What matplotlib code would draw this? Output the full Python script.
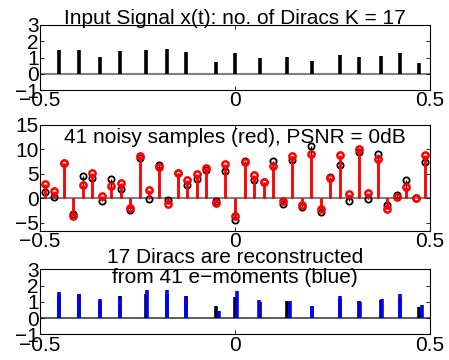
import numpy as np
import matplotlib
matplotlib.use('Agg')
import matplotlib.pyplot as plt

plt.rcParams['font.family'] = ['Liberation Sans', 'DejaVu Sans']
plt.rcParams['axes.unicode_minus'] = True

# --- datos ---
tk = [-0.4505, -0.400, -0.347, -0.2956, -0.229, -0.175, -0.126, -0.0495, 0.001,
      0.064, 0.134, 0.197, 0.269, 0.319, 0.374, 0.423, 0.472]
ak = [1.44, 1.48, 1.03, 1.37, 1.48, 1.50, 1.33, 0.72, 1.29,
      0.96, 1.05, 0.76, 1.17, 1.03, 1.09, 1.29, 0.68]

tk_rec = [-0.4505, -0.400, -0.346, -0.2956, -0.2256, -0.175, -0.126, -0.041, 0.004,
          0.0624, 0.141, 0.197, 0.270, 0.320, 0.376, 0.423, 0.479]
ak_rec = [1.58, 1.42, 1.20, 1.31, 1.73, 1.73, 1.31, 0.44, 1.67,
          1.10, 1.06, 0.73, 1.35, 1.00, 1.19, 1.48, 0.79]

n_samples = np.arange(41)
clean = [1.3, 0.27, 7.2, -3.15, 4.6, 4.2, -0.6, 4.0, 2.0, -2.5,
         8.2, -0.1, 6.85, -0.35, 5.1, 2.8, 3.9, 5.75, -0.5, 5.5,
         -4.4, 7.67, 3.77, 3.3, 7.6, -1.16, 7.9, -1.7, 10.6, -2.9,
         4.45, 6.8, -0.55, 9.45, -0.2, 8.97, -1.37, 0.75, 3.84, 0.0, 7.47]
noisy = [3.0, 1.44, 7.3, -3.7, 2.8, 5.2, 0.4, 2.5, 3.1, -1.9,
         8.56, 1.6, 6.5, -1.15, 5.1, 3.8, 4.9, 6.2, -1.0, 7.0,
         -3.6, 7.47, 4.8, 3.3, 6.6, -0.6, 8.56, -1.3, 8.97, -2.2,
         4.2, 8.77, 0.9, 10.1, 1.16, 8.0, -2.1, 0.34, 2.26, 0.05, 8.77]

t_samples = (n_samples - 20) / 41.0

fig = plt.figure(figsize=(4.49, 3.6), dpi=100)
left, width = 40 / 449, 390 / 449
ax1 = fig.add_axes([left, 1 - 90 / 360, width, 65 / 360])
ax2 = fig.add_axes([left, 1 - 231 / 360, width, 106 / 360])
ax3 = fig.add_axes([left, 1 - 334.3 / 360, width, 65 / 360])


def estilo(ax, yticks, ylim):
    ax.set_xlim(-0.5, 0.5)
    ax.set_ylim(*ylim)
    ax.set_xticks([-0.5, 0, 0.5])
    ax.set_xticklabels(['\u22120.5', '0', '0.5'])
    ax.set_yticks(yticks)
    ax.set_yticklabels([str(v).replace('-', '\u2212') for v in yticks])
    ax.tick_params(direction='in', top=True, right=True, length=3, width=0.6,
                   labelsize=15, pad=1)
    for s in ax.spines.values():
        s.set_linewidth(0.8)


# --- 1. Senal de entrada ---
ax1.axhline(0, color='gray', lw=1.5, zorder=1)
ax1.vlines(tk, 0, ak, color='black', lw=2.6, zorder=2)
estilo(ax1, [-1, 0, 1, 2, 3], (-1, 3))
ax1.set_title('Input Signal x(t): no. of Diracs K = 17', fontsize=15, pad=1)

# --- 2. Muestras ruidosas ---
ax2.axhline(0, color='gray', lw=1.5, zorder=1)
ax2.vlines(t_samples, 0, clean, color='black', lw=1.0, zorder=2)
ax2.plot(t_samples, clean, 'o', mfc='none', mec='black', ms=4.5, mew=1.3, zorder=3)
ax2.vlines(t_samples, 0, noisy, color='red', lw=2.0, zorder=4)
ax2.plot(t_samples, noisy, 'o', mfc='none', mec='red', ms=4.5, mew=1.8, zorder=5)
estilo(ax2, [-5, 0, 5, 10, 15], (-6.7, 15))
ax2.text(0.5, 0.975, '41 noisy samples (red), PSNR = 0dB', transform=ax2.transAxes,
         ha='center', va='top', fontsize=15)

# --- 3. Reconstruccion ---
ax3.axhline(0, color='#404040', lw=1.2, zorder=1)
ax3.vlines(tk, 0, ak, color='black', lw=2.6, zorder=2)
ax3.vlines(tk_rec, 0, ak_rec, color='blue', lw=2.6, zorder=3)
estilo(ax3, [-1, 0, 1, 2, 3], (-1, 3))
ax3.text(0.5, 1.03, '17 Diracs are reconstructed\nfrom 41 e\u2212moments (blue)',
         transform=ax3.transAxes, ha='center', va='center', fontsize=15,
         linespacing=1.1)

fig.savefig('out.png', dpi=100)
